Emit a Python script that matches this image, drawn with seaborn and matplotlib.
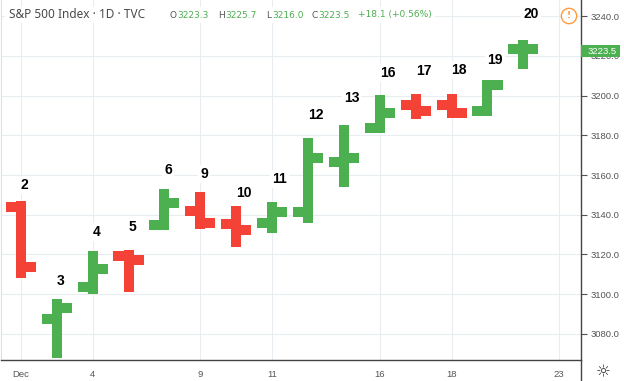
import numpy as np
import matplotlib.pyplot as plt
import matplotlib.transforms as mtransforms
from matplotlib.patches import Rectangle
from matplotlib.lines import Line2D
import seaborn as sns

# S&P 500 daily OHLC, Dec 2019
days = [2, 3, 4, 5, 6, 9, 10, 11, 12, 13, 16, 17, 18, 19, 20]
opens = [3143.9, 3087.4, 3103.5, 3119.2, 3134.6, 3141.9, 3135.4, 3135.8,
         3141.2, 3166.7, 3183.6, 3195.4, 3195.2, 3192.3, 3223.3]
highs = [3144.3, 3095.0, 3119.4, 3119.5, 3150.6, 3148.9, 3142.1, 3144.0,
         3176.3, 3182.7, 3197.7, 3198.2, 3198.5, 3205.5, 3225.7]
lows = [3110.8, 3070.3, 3102.5, 3103.8, 3134.6, 3135.5, 3126.1, 3133.2,
        3138.5, 3156.5, 3183.6, 3191.0, 3191.1, 3192.3, 3216.0]
closes = [3113.9, 3093.2, 3112.8, 3117.4, 3145.9, 3136.0, 3132.5, 3141.6,
          3168.6, 3168.8, 3191.5, 3192.5, 3191.1, 3205.4, 3223.5]

trading_days = days + [23]
tick_days = [2, 4, 9, 11, 16, 18, 23]
tick_labels = ['Dec', '4', '9', '11', '16', '18', '23']
y_ticks = [3080, 3100, 3120, 3140, 3160, 3180, 3200, 3220, 3240]

# pixel offsets of the day labels above each high
label_offsets = [21, 23, 24, 28, 24, 23, 17.5, 28, 28, 32, 27, 28, 28.6, 25, 31]

green = '#4caf50'
red = '#f44336'

sns.set_theme(style='whitegrid', rc={'grid.color': '#e8edf2', 'grid.linewidth': 0.8})

W, H = 624, 381
fig, ax = plt.subplots(figsize=(W / 100, H / 100), dpi=100)
fig.subplots_adjust(left=1 / W, right=581 / W, bottom=1 - 360 / H, top=1)

x = np.array([trading_days.index(d) for d in days])
colors = [green if c >= o else red for o, c in zip(opens, closes)]
tick_len = 0.42

vl = ax.vlines(x, lows, highs, colors=colors, linewidth=7.2)
vl.set_capstyle('projecting')
ol = ax.hlines(opens, x - tick_len, x, colors=colors, linewidth=7.2)
cl = ax.hlines(closes, x, x + tick_len, colors=colors, linewidth=7.2)
ol.set_capstyle('butt')
cl.set_capstyle('butt')

for xi, hi, d, off in zip(x, highs, days, label_offsets):
    ax.annotate(str(d), (xi, hi), xytext=(0, off), textcoords='offset pixels',
                ha='left', va='center', fontsize=10, fontweight='bold',
                family='Liberation Sans', color='black', zorder=4,
                bbox=dict(boxstyle='square,pad=0.15', fc='white', ec='none'))

ax.set_xlim(-0.552, 15.605)
ax.set_ylim(3066.8, 3248.2)
ax.set_xticks([trading_days.index(d) for d in tick_days], tick_labels)
ax.set_yticks(y_ticks)
ax.yaxis.set_major_formatter('{x:.1f}')
ax.yaxis.tick_right()
ax.tick_params(axis='both', length=4, width=0.8, color='#555555', labelsize=6.8,
               labelcolor='#555555', pad=3)
for lab in ax.get_xticklabels() + ax.get_yticklabels():
    lab.set_family('Liberation Sans')

for side in ['right', 'bottom']:
    ax.spines[side].set_color('#444444')
    ax.spines[side].set_linewidth(1)
ax.spines['left'].set_color('#dcdfe3')
ax.spines['left'].set_linewidth(0.8)
ax.spines['top'].set_visible(False)

# last price marker on the price scale
trans = mtransforms.blended_transform_factory(ax.transAxes, ax.transData)
ax.add_patch(Rectangle((1.0, closes[-1] - 3.9), 39 / 580, 5.8, transform=trans,
                       fc=green, ec='none', clip_on=False, zorder=5))
ax.text(1.0 + 7 / 580, closes[-1] - 1.0, f'{closes[-1]:.1f}', transform=trans,
        ha='left', va='center', color='white', fontsize=6.8,
        family='Liberation Sans', clip_on=False, zorder=6)

# header
yh = 1 - 15 / H
fig.add_artist(Rectangle((5 / W, 1 - 23 / H), 430 / W, 16 / H,
                         transform=fig.transFigure, fc='white', ec='none'))
fig.text(9 / W, yh, 'S&P 500 Index · 1D · TVC', fontsize=8.5, color='#4a4a4a',
         family='Noto Sans', va='center', ha='left')
parts = [(170, 'O', '#555555'), (177, f'{opens[-1]:.1f}', green),
         (218, 'H', '#555555'), (225, f'{highs[-1]:.1f}', green),
         (266, 'L', '#555555'), (272, f'{lows[-1]:.1f}', green),
         (311, 'C', '#555555'), (318, f'{closes[-1]:.1f}', green),
         (358, '+18.1 (+0.56%)', green)]
for px, s, c in parts:
    fig.text(px / W, yh, s, fontsize=6.5, color=c, family='DejaVu Sans',
             va='center', ha='left')

# warning icon and settings icon
fig.text(569 / W, 1 - 16 / H, '!', fontsize=6.5, color='#ff9a3c', ha='center',
         va='center', fontweight='bold',
         bbox=dict(boxstyle='circle,pad=0.35', fc='white', ec='#ff9a3c', lw=1))
fig.text(603 / W, 1 - 372 / H, '☼', fontsize=12, color='#333333',
         ha='center', va='center', family='DejaVu Sans')
fig.add_artist(Line2D([581 / W, 581 / W], [0, 1 - 360 / H], color='#444444', lw=1))

fig.savefig('out.png', dpi=100)
